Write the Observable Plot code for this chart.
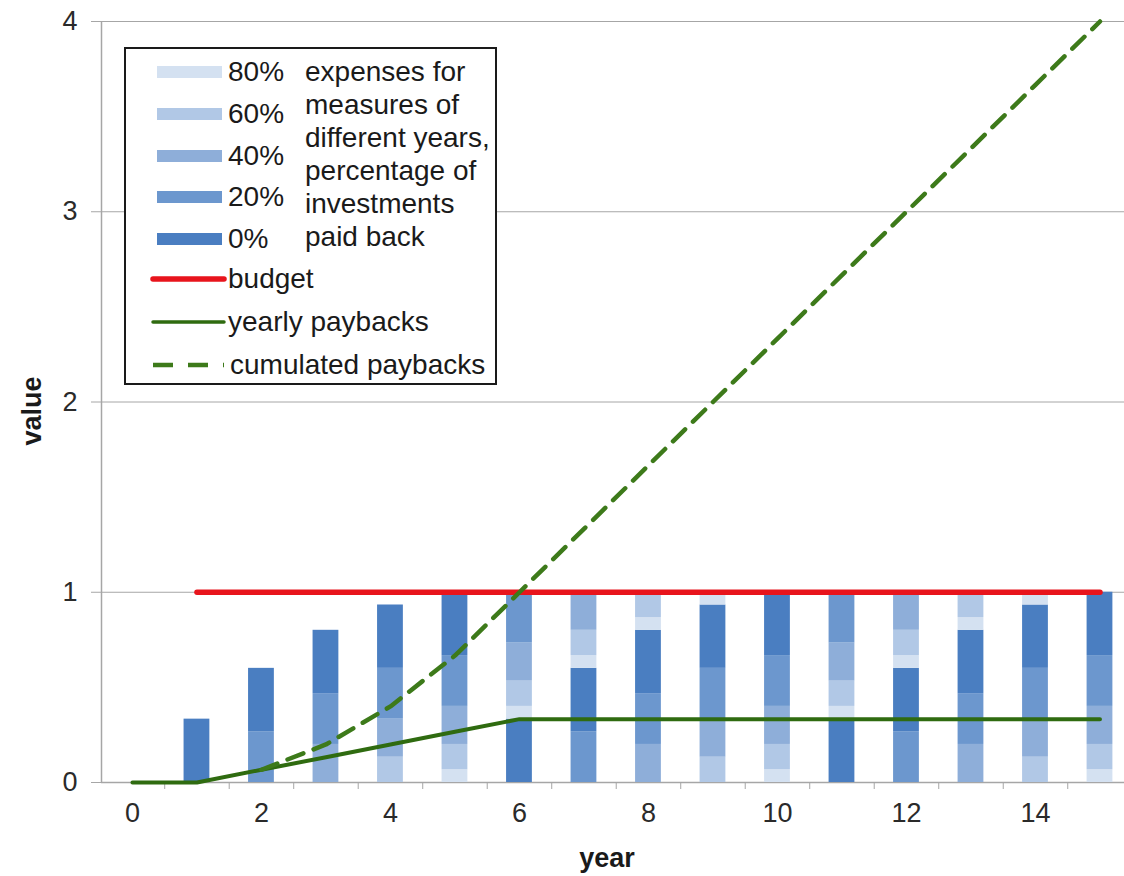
<!DOCTYPE html>
<html><head><meta charset="utf-8">
<script src="https://cdn.jsdelivr.net/npm/d3@7"></script>
<script src="https://cdn.jsdelivr.net/npm/@observablehq/plot@0.6"></script>
<style>
html,body{margin:0;padding:0;background:#fff;}
#wrap{position:relative;width:1124px;height:876px;font-family:"Liberation Sans",Arial,sans-serif;overflow:hidden;}
#wrap svg{position:absolute;left:0;top:0;}
#legend{position:absolute;left:124px;top:47px;width:369px;height:334px;border:2px solid #1a1a1a;background:#fff;color:#1a1a1a;font-size:28px;}
#legend .t{position:absolute;white-space:nowrap;height:34px;line-height:34px;}
#legend .sw{position:absolute;height:12px;width:65px;}
</style></head><body><div id="wrap"></div>
<script>
// ---- data ----
const years = [1,2,3,4,5,6,7,8,9,10,11,12,13,14,15];
// percentage paid back of each stacked segment, bottom to top, per year
const stackPct = [
  [0],
  [20,0],
  [40,20,0],
  [60,40,20,0],
  [80,60,40,20,0],
  [0,80,60,40,20],
  [20,0,80,60,40],
  [40,20,0,80,60],
  [60,40,20,0,80],
  [80,60,40,20,0],
  [0,80,60,40,20],
  [20,0,80,60,40],
  [40,20,0,80,60],
  [60,40,20,0,80],
  [80,60,40,20,0]
];
// segment heights, bottom to top, per year
const stackVal = [
  [0.333],
  [0.267,0.333],
  [0.2,0.267,0.333],
  [0.133,0.2,0.267,0.333],
  [0.067,0.133,0.2,0.267,0.333],
  [0.333,0.067,0.133,0.2,0.267],
  [0.267,0.333,0.067,0.133,0.2],
  [0.2,0.267,0.333,0.067,0.133],
  [0.133,0.2,0.267,0.333,0.067],
  [0.067,0.133,0.2,0.267,0.333],
  [0.333,0.067,0.133,0.2,0.267],
  [0.267,0.333,0.067,0.133,0.2],
  [0.2,0.267,0.333,0.067,0.133],
  [0.133,0.2,0.267,0.333,0.067],
  [0.067,0.133,0.2,0.267,0.333]
];
const budgetYears = [1,15];
const budgetValues = [1,1];
const lineYears = [0,1,2,3,4,5,6,7,8,9,10,11,12,13,14,15];
const yearlyPaybacks = [0,0,0.067,0.133,0.2,0.267,0.333,0.333,0.333,0.333,0.333,0.333,0.333,0.333,0.333,0.333];
const cumYears = [2,3,4,5,6,7,8,9,10,11,12,13,14,15];
const cumulatedPaybacks = [0.067,0.2,0.4,0.667,1,1.333,1.667,2,2.333,2.667,3,3.333,3.667,4];
const pctKeys = [80,60,40,20,0];
const pctLabels = ["80%","60%","40%","20%","0%"];
const pctColors = ["#d4e1f1","#b1c8e6","#8eaed9","#6c97ce","#4a7ec1"];
const descLines = ["expenses for","measures of","different years,","percentage of","investments","paid back"];
const lineLabels = ["budget","yearly paybacks","cumulated paybacks"];
const yTicks = [0,1,2,3,4];
const xLabelTicks = [0,2,4,6,8,10,12,14];
const xTickMarks = [0.5,1.5,2.5,3.5,4.5,5.5,6.5,7.5,8.5,9.5,10.5,11.5,12.5,13.5,14.5];
const gridValues = [1,2,3,4];

// ---- build tables ----
const segments = [];
years.forEach((yr, i) => {
  let acc = 0;
  stackVal[i].forEach((v, j) => {
    segments.push({year: yr, pct: stackPct[i][j], y1: acc, y2: acc + v});
    acc += v;
  });
});
const budget = budgetYears.map((x, i) => ({x, y: budgetValues[i]}));
const yearly = lineYears.map((x, i) => ({x, y: yearlyPaybacks[i]}));
const cum = cumYears.map((x, i) => ({x, y: cumulatedPaybacks[i]}));

const X0 = -0.48, X1 = 15.38;
const grey = "#a6a6a6";
const green = "#2f6b10";
const dashGreen = "#3d7a1a";
const red = "#e8141c";

const chart = Plot.plot({
  width: 1124, height: 876,
  marginLeft: 101, marginRight: 0, marginTop: 21, marginBottom: 94,
  style: {fontFamily: "'Liberation Sans', Arial, sans-serif", fontSize: "27px", background: "#fff", overflow: "visible"},
  x: {domain: [X0, X1]},
  y: {domain: [0, 4]},
  color: {domain: pctKeys, range: pctColors},
  marks: [
    Plot.ruleY(gridValues, {x1: X0, x2: X1, stroke: grey, strokeWidth: 1}),
    Plot.ruleX([X0], {y1: 0, y2: 4, stroke: grey, strokeWidth: 1.5}),
    Plot.ruleY([0], {x1: X0, x2: X1, stroke: grey, strokeWidth: 1.5}),
    Plot.axisY({ticks: yTicks, tickSize: 10, tickPadding: 14, label: null, tickFormat: d => String(d), stroke: grey, fill: "#2a2a2a", fontSize: 27}),
    Plot.axisX({ticks: xTickMarks, tickSize: 7, tickFormat: () => "", label: null, stroke: grey}),
    Plot.axisX({ticks: xLabelTicks, tickSize: 0, tickPadding: 20, label: null, tickFormat: d => String(d), fill: "#2a2a2a", fontSize: 27}),
    Plot.rect(segments, {x1: d => d.year - 0.2, x2: d => d.year + 0.2, y1: "y1", y2: "y2", fill: "pct"}),
    Plot.line(budget, {x: "x", y: "y", stroke: red, strokeWidth: 5.5}),
    Plot.line(yearly, {x: "x", y: "y", stroke: green, strokeWidth: 4}),
    Plot.line(cum, {x: "x", y: "y", stroke: dashGreen, strokeWidth: 4.5, strokeDasharray: "17 11"}),
    Plot.text(["year"], {frameAnchor: "bottom", lineAnchor: "middle", textAnchor: "middle", dy: 76, dx: -6, fontWeight: "bold", fill: "#1a1a1a", fontSize: 27}),
    Plot.text(["value"], {frameAnchor: "left", textAnchor: "middle", lineAnchor: "middle", dx: -69, dy: 9, rotate: -90, fontWeight: "bold", fill: "#1a1a1a", fontSize: 27})
  ]
});
const wrap = document.getElementById("wrap");
wrap.appendChild(chart);

// ---- legend ----
const lg = d3.select(wrap).append("div").attr("id", "legend");
pctLabels.forEach((lab, i) => {
  const cy = 23 + i * 41.8;
  lg.append("div").attr("class", "sw").style("left", "31px").style("top", (cy - 6) + "px").style("background", pctColors[i]);
  lg.append("div").attr("class", "t").style("left", "102px").style("top", (cy - 17) + "px").text(lab);
});
descLines.forEach((t, i) => {
  const cy = 23 + i * 33;
  lg.append("div").attr("class", "t").style("left", "179px").style("top", (cy - 17) + "px").text(t);
});
const lineStyles = [
  {stroke: red, w: 5.5, dash: null},
  {stroke: green, w: 3.5, dash: null},
  {stroke: dashGreen, w: 4.5, dash: "20 15"}
];
const lsvg = lg.append("svg").attr("width", 110).attr("height", 334).style("position", "absolute").style("left", 0).style("top", 0);
lineLabels.forEach((t, i) => {
  const cy = 230 + i * 43;
  lsvg.append("line").attr("x1", 27).attr("x2", 98).attr("y1", cy).attr("y2", cy)
    .attr("stroke", lineStyles[i].stroke).attr("stroke-width", lineStyles[i].w)
    .attr("stroke-linecap", lineStyles[i].dash ? "butt" : "round")
    .attr("stroke-dasharray", lineStyles[i].dash);
  lg.append("div").attr("class", "t").style("left", (i === 2 ? 104 : 102) + "px").style("top", (cy - 17) + "px").text(t);
});
</script></body></html>
